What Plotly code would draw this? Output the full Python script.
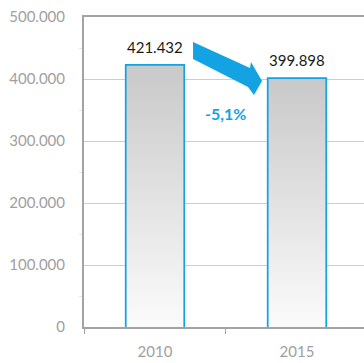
import plotly.graph_objects as go

# Data
years = ["2010", "2015"]
values = [421432, 399898]
value_labels = ["421.432", "399.898"]
change_label = "-5,1%"

blue = "#14a3e2"
axis_grey = "#a3a3a3"
grid_grey = "#cdcdcd"
tick_font = dict(family="Lato, 'Open Sans', sans-serif", size=15, color="#a0a0a0")

xpos = list(range(len(years)))
half = 0.2  # half bar width in category units

fig = go.Figure()

# Gradient-filled bar bodies (light at the base, grey at the top)
for xi, v in zip(xpos, values):
    fig.add_trace(go.Scatter(
        x=[xi - half, xi + half, xi + half, xi - half, xi - half],
        y=[0, 0, v, v, 0],
        mode="lines",
        line=dict(width=0),
        fill="toself",
        fillgradient=dict(type="vertical",
                          colorscale=[[0, "#fbfbfb"], [1, "#c9c9c9"]]),
        hoverinfo="skip",
        showlegend=False,
    ))

# Blue bar outlines
fig.add_trace(go.Bar(
    x=xpos, y=values, width=2 * half,
    marker=dict(color="rgba(0,0,0,0)", line=dict(color=blue, width=3.5)),
    showlegend=False, hoverinfo="skip",
))

# Value labels above bars
for xi, v, lab in zip(xpos, values, value_labels):
    fig.add_annotation(x=xi, y=v, text=lab, showarrow=False,
                       yanchor="bottom", yshift=8,
                       font=dict(family="Lato, 'Open Sans', sans-serif", size=15, color="#1a1a1a"))

# Percentage change label
fig.add_annotation(x=0.5, y=345000, text="<b>" + change_label + "</b>", showarrow=False,
                   font=dict(family="Lato, 'Open Sans', sans-serif", size=16, color=blue))

# Thick downward arrow between the bars
arrow_pts = [(0.268, 459700), (0.669, 417700), (0.676, 427400), (0.754, 396800),
             (0.697, 374200), (0.655, 387100), (0.268, 432300)]
path = "M " + " L ".join(f"{x},{y}" for x, y in arrow_pts) + " Z"
fig.add_shape(type="path", path=path, xref="x", yref="y",
              fillcolor=blue, line=dict(width=0), layer="above")

fig.update_layout(
    width=364, height=363,
    margin=dict(l=84, r=0, t=17, b=36),
    paper_bgcolor="white", plot_bgcolor="white",
    separators=",.",
    showlegend=False,
    xaxis=dict(
        range=[-0.5, 1.472],
        tickvals=xpos, ticktext=years,
        ticks="", showgrid=False, zeroline=False,
        showline=True, linecolor=axis_grey, linewidth=2, mirror=True,
        tickfont=tick_font, ticklabelstandoff=10,
        minor=dict(tick0=-0.5, dtick=1, ticks="outside", ticklen=5,
                   tickcolor=axis_grey, tickwidth=1, showgrid=False),
        fixedrange=True,
    ),
    yaxis=dict(
        range=[0, 500000], dtick=100000, tickformat=",d",
        showgrid=True, gridcolor=grid_grey, gridwidth=1,
        zeroline=False,
        showline=True, linecolor=axis_grey, linewidth=2,
        ticks="", tickfont=tick_font, ticklabelstandoff=14,
        minor=dict(dtick=50000, ticks="outside", ticklen=3,
                   tickcolor="#e6e6e6", tickwidth=1, showgrid=False),
        fixedrange=True,
    ),
)

fig.write_html("out.html")
